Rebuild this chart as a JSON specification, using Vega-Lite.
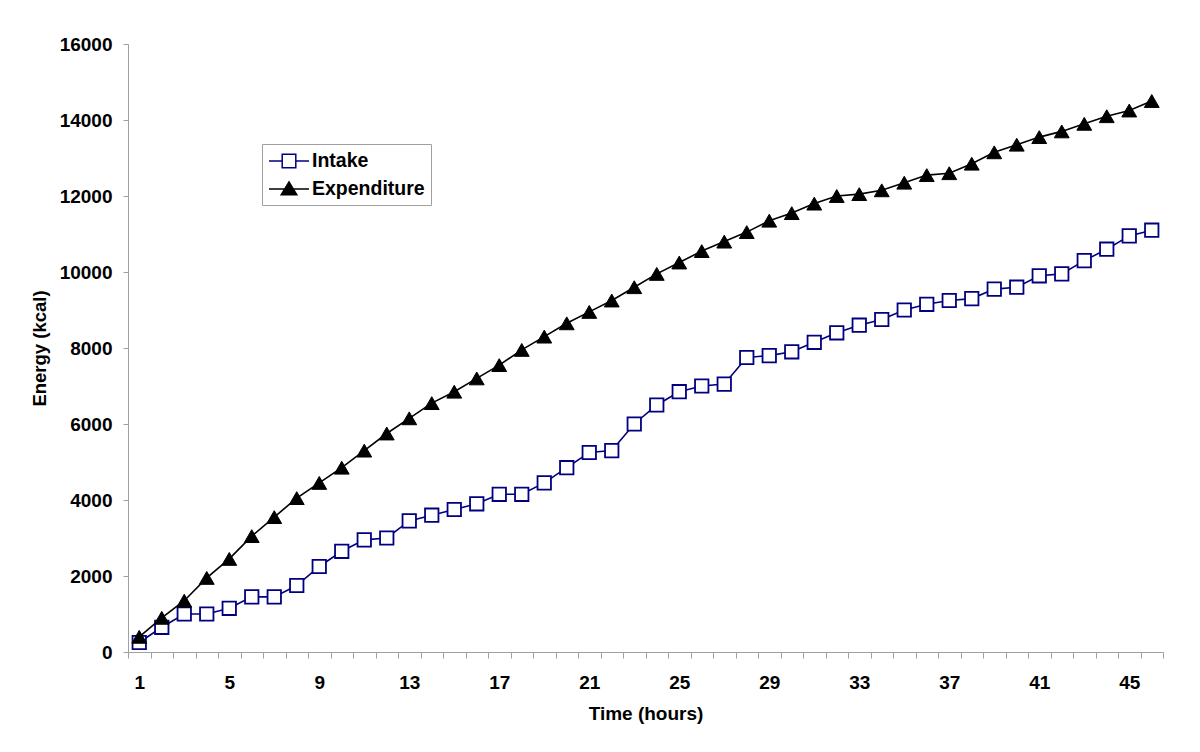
{
  "$schema": "https://vega.github.io/schema/vega-lite/v6.json",
  "width": 1035,
  "height": 608,
  "autosize": "none",
  "padding": {"left": 128, "top": 44, "right": 37, "bottom": 100},
  "background": "white",
  "config": {
    "font": "Liberation Sans",
    "view": {"stroke": null},
    "axis": {"labelFont": "Liberation Sans", "titleFont": "Liberation Sans", "labelFontWeight": "bold", "titleFontWeight": "bold", "labelColor": "black", "titleColor": "black", "grid": false, "domainColor": "#a0a0a0", "tickColor": "#a0a0a0", "domainWidth": 1, "tickWidth": 1}
  },
  "data": {"values": [
    {"hour":1,"series":"Intake","value":250},{"hour":2,"series":"Intake","value":650},{"hour":3,"series":"Intake","value":1000},{"hour":4,"series":"Intake","value":1000},{"hour":5,"series":"Intake","value":1150},{"hour":6,"series":"Intake","value":1450},{"hour":7,"series":"Intake","value":1450},{"hour":8,"series":"Intake","value":1750},{"hour":9,"series":"Intake","value":2250},{"hour":10,"series":"Intake","value":2650},{"hour":11,"series":"Intake","value":2950},{"hour":12,"series":"Intake","value":3000},{"hour":13,"series":"Intake","value":3450},{"hour":14,"series":"Intake","value":3600},{"hour":15,"series":"Intake","value":3750},{"hour":16,"series":"Intake","value":3900},{"hour":17,"series":"Intake","value":4150},{"hour":18,"series":"Intake","value":4150},{"hour":19,"series":"Intake","value":4450},{"hour":20,"series":"Intake","value":4850},{"hour":21,"series":"Intake","value":5250},{"hour":22,"series":"Intake","value":5300},{"hour":23,"series":"Intake","value":6000},{"hour":24,"series":"Intake","value":6500},{"hour":25,"series":"Intake","value":6850},{"hour":26,"series":"Intake","value":7000},{"hour":27,"series":"Intake","value":7050},{"hour":28,"series":"Intake","value":7750},{"hour":29,"series":"Intake","value":7800},{"hour":30,"series":"Intake","value":7900},{"hour":31,"series":"Intake","value":8150},{"hour":32,"series":"Intake","value":8400},{"hour":33,"series":"Intake","value":8600},{"hour":34,"series":"Intake","value":8750},{"hour":35,"series":"Intake","value":9000},{"hour":36,"series":"Intake","value":9150},{"hour":37,"series":"Intake","value":9250},{"hour":38,"series":"Intake","value":9300},{"hour":39,"series":"Intake","value":9550},{"hour":40,"series":"Intake","value":9600},{"hour":41,"series":"Intake","value":9900},{"hour":42,"series":"Intake","value":9950},{"hour":43,"series":"Intake","value":10300},{"hour":44,"series":"Intake","value":10600},{"hour":45,"series":"Intake","value":10950},{"hour":46,"series":"Intake","value":11100},
    {"hour":1,"series":"Expenditure","value":400},{"hour":2,"series":"Expenditure","value":900},{"hour":3,"series":"Expenditure","value":1350},{"hour":4,"series":"Expenditure","value":1950},{"hour":5,"series":"Expenditure","value":2450},{"hour":6,"series":"Expenditure","value":3050},{"hour":7,"series":"Expenditure","value":3550},{"hour":8,"series":"Expenditure","value":4050},{"hour":9,"series":"Expenditure","value":4450},{"hour":10,"series":"Expenditure","value":4850},{"hour":11,"series":"Expenditure","value":5300},{"hour":12,"series":"Expenditure","value":5750},{"hour":13,"series":"Expenditure","value":6150},{"hour":14,"series":"Expenditure","value":6550},{"hour":15,"series":"Expenditure","value":6850},{"hour":16,"series":"Expenditure","value":7200},{"hour":17,"series":"Expenditure","value":7550},{"hour":18,"series":"Expenditure","value":7950},{"hour":19,"series":"Expenditure","value":8300},{"hour":20,"series":"Expenditure","value":8650},{"hour":21,"series":"Expenditure","value":8950},{"hour":22,"series":"Expenditure","value":9250},{"hour":23,"series":"Expenditure","value":9600},{"hour":24,"series":"Expenditure","value":9950},{"hour":25,"series":"Expenditure","value":10250},{"hour":26,"series":"Expenditure","value":10550},{"hour":27,"series":"Expenditure","value":10800},{"hour":28,"series":"Expenditure","value":11050},{"hour":29,"series":"Expenditure","value":11350},{"hour":30,"series":"Expenditure","value":11550},{"hour":31,"series":"Expenditure","value":11800},{"hour":32,"series":"Expenditure","value":12000},{"hour":33,"series":"Expenditure","value":12050},{"hour":34,"series":"Expenditure","value":12150},{"hour":35,"series":"Expenditure","value":12350},{"hour":36,"series":"Expenditure","value":12550},{"hour":37,"series":"Expenditure","value":12600},{"hour":38,"series":"Expenditure","value":12850},{"hour":39,"series":"Expenditure","value":13150},{"hour":40,"series":"Expenditure","value":13350},{"hour":41,"series":"Expenditure","value":13550},{"hour":42,"series":"Expenditure","value":13700},{"hour":43,"series":"Expenditure","value":13900},{"hour":44,"series":"Expenditure","value":14100},{"hour":45,"series":"Expenditure","value":14250},{"hour":46,"series":"Expenditure","value":14500}
  ]},
  "encoding": {
    "x": {
      "field": "hour", "type": "ordinal", "bandPosition": 0.5,
      "scale": {"type": "band", "paddingInner": 0, "paddingOuter": 0},
      "axis": {"title": "Time (hours)", "labelAngle": 0, "tickBand": "extent", "labelOverlap": false,
        "labelExpr": "(datum.value - 1) % 4 == 0 ? datum.value : ''",
        "labelFontSize": 19, "titleFontSize": 19, "tickSize": 6, "labelPadding": 15, "titlePadding": 12}
    },
    "y": {
      "field": "value", "type": "quantitative",
      "scale": {"domain": [0, 16000], "nice": false},
      "axis": {"title": "Energy (kcal)", "values": [0,2000,4000,6000,8000,10000,12000,14000,16000], "format": "d",
        "labelFontSize": 19, "titleFontSize": 18.5, "tickSize": 5, "labelPadding": 11, "titlePadding": 10}
    }
  },
  "layer": [
    {
      "mark": {"type": "line", "strokeWidth": 1.6},
      "encoding": {
        "stroke": {
          "field": "series", "type": "nominal",
          "scale": {"domain": ["Intake", "Expenditure"], "range": ["#000080", "#000000"]},
          "legend": {
            "title": null, "orient": "none", "legendX": 134, "legendY": 100,
            "strokeColor": "#a0a0a0", "padding": 6, "fillColor": "white",
            "labelFont": "Liberation Sans", "labelFontWeight": "bold", "labelFontSize": 19.5, "labelColor": "black",
            "symbolSize": 400, "rowPadding": 7, "symbolOffset": 10, "labelOffset": 12,
            "encode": {"symbols": {"update": {
              "shape": {"signal": "datum.value === 'Intake' ? 'M-2,0H-0.68M0.68,0H2M-0.68,-0.68H0.68V0.68H-0.68Z' : 'M-2,0H2M0,-0.7L0.78,0.58H-0.78Z'"},
              "fill": {"signal": "datum.value === 'Intake' ? 'white' : 'black'"},
              "stroke": {"signal": "datum.value === 'Intake' ? '#000080' : 'black'"},
              "strokeWidth": {"value": 1.5},
              "size": {"value": 400},
              "opacity": {"value": 1}
            }}}
          }
        }
      }
    },
    {
      "transform": [{"filter": "datum.series === 'Intake'"}],
      "mark": {"type": "point", "shape": "square", "filled": false, "fill": "white", "stroke": "#000080", "strokeWidth": 1.8, "opacity": 1, "size": 180}
    },
    {
      "transform": [{"filter": "datum.series === 'Expenditure'"}],
      "mark": {"type": "point", "shape": "triangle-up", "filled": true, "fill": "black", "stroke": "black", "strokeWidth": 1, "opacity": 1, "size": 220}
    }
  ]
}
